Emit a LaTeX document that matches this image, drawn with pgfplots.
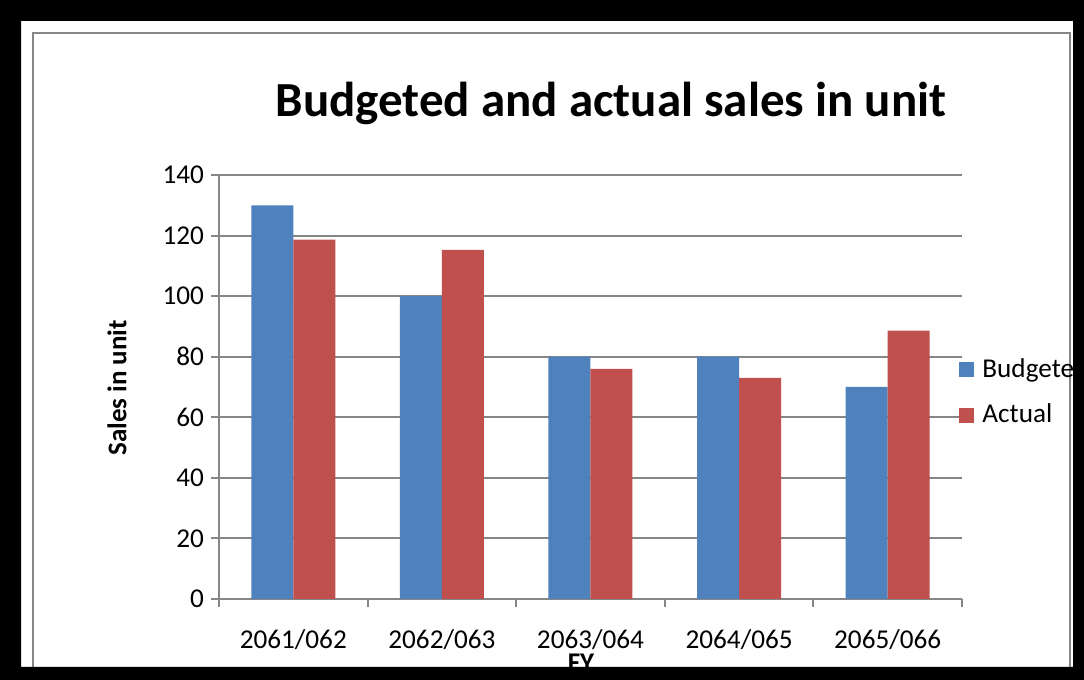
\documentclass[border=0pt]{standalone}
\usepackage{fontspec}
\setmainfont{Carlito}
\usepackage{pgfplots}
\pgfplotsset{compat=1.18}
\definecolor{bblue}{HTML}{4F81BD}
\definecolor{rred}{HTML}{C0504D}
\definecolor{ggray}{HTML}{868686}
\begin{document}
\begin{tikzpicture}[x=1pt,y=1pt]
\useasboundingbox (0,0) rectangle (542,340);
\fill[white] (0,0) rectangle (542,340);
\draw[ggray, line width=1pt] (16.5,-5) -- (16.5,323.5) -- (535,323.5) -- (535,-5);
\node[font=\bfseries\fontsize{24.5}{29}\selectfont] at (305.5,288.5) {Budgeted and actual sales in unit};
\node[font=\bfseries\fontsize{13.5}{16}\selectfont, rotate=90] at (58.5,146) {Sales in unit};
\node[font=\bfseries\fontsize{13.5}{16}\selectfont] at (290.5,8.5) {FY};
\begin{axis}[
  at={(109.5pt,40.5pt)}, anchor=south west, scale only axis,
  width=371.5pt, height=212pt,
  xmin=-0.5, xmax=4.5, ymin=0, ymax=140,
  axis x line*=bottom, axis y line*=left,
  axis line style={ggray, line width=1pt},
  ytick={0,20,...,140}, ymajorgrids, grid style={ggray, line width=1pt},
  xtick={-0.5,0.5,...,4.5},
  xticklabels={2061/062,2062/063,2063/064,2064/065,2065/066,{}},
  x tick label style={xshift=37.15pt, yshift=-8pt},
  tick align=outside, major tick length=4pt, tick style={ggray, line width=1pt},
  ticklabel style={font=\fontsize{13.6}{16}\selectfont},
  /pgf/number format/assume math mode=true,
  ybar=0pt, bar width=21pt,
  area legend,
  legend image code/.code={\fill[#1] (0pt,-3.75pt) rectangle (7.5pt,3.75pt);},
  legend style={at={(1,0.488)}, anchor=west, draw=none, fill=none,
    font=\fontsize{13.6}{16}\selectfont, row sep=8pt, inner xsep=0pt, xshift=-1.5pt,
    cells={anchor=west}, /tikz/every odd column/.style={column sep=2pt}},
]
\addplot[fill=bblue, draw=none] coordinates {(0,130) (1,100) (2,80) (3,80) (4,70)};
\addplot[fill=rred, draw=none] coordinates {(0,118.7) (1,115.3) (2,76) (3,73) (4,88.6)};
\legend{Budgeted,Actual}
\end{axis}
\fill[black, even odd rule] (0,0) rectangle (542,340) (10.5,6.5) rectangle (536.5,329.5);
\end{tikzpicture}
\end{document}
